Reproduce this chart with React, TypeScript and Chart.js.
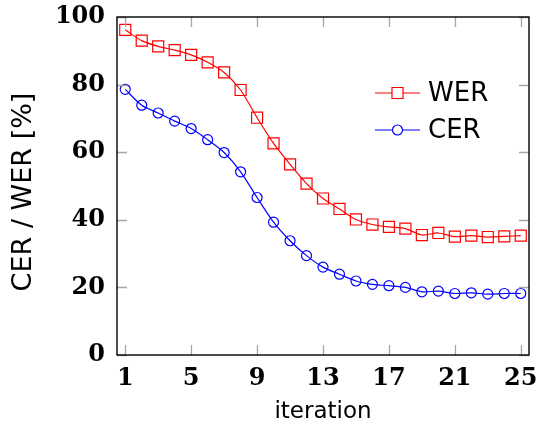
import { useEffect, useRef } from 'react';
import { Chart, registerables } from 'chart.js';

Chart.register(...registerables);

const iterations = [1, 2, 3, 4, 5, 6, 7, 8, 9, 10, 11, 12, 13, 14, 15, 16, 17, 18, 19, 20, 21, 22, 23, 24, 25];
const werValues = [96.2, 93.0, 91.3, 90.2, 88.8, 86.6, 83.6, 78.4, 70.2, 62.6, 56.4, 50.7, 46.3, 43.2, 40.1, 38.6, 37.9, 37.4, 35.5, 36.1, 35.0, 35.3, 34.9, 35.1, 35.3];
const cerValues = [78.6, 73.9, 71.6, 69.2, 67.0, 63.7, 59.9, 54.2, 46.6, 39.3, 33.8, 29.4, 26.0, 23.9, 21.9, 20.9, 20.5, 20.0, 18.7, 18.9, 18.2, 18.4, 18.0, 18.2, 18.2];
const xTickValues = [1, 5, 9, 13, 17, 21, 25];
const yTickValues = [0, 20, 40, 60, 80, 100];
const seriesLabels = ['WER', 'CER'];
const xTitle = 'iteration';
const yTitle = 'CER / WER [%]';

const SANS = '"DejaVu Sans", sans-serif';
const SERIF = '"DejaVu Serif", serif';

const zeroPadding = (scale: any) => {
  scale.paddingLeft = 0;
  scale.paddingRight = 0;
  scale.paddingTop = 0;
  scale.paddingBottom = 0;
};

const frameTicksPlugin = {
  id: 'frameTicks',
  afterDatasetsDraw(chart: any) {
    const { ctx, chartArea, scales } = chart;
    const { left, right, top, bottom } = chartArea;
    const len = 10;
    ctx.save();
    ctx.strokeStyle = '#a6a6a6';
    ctx.lineWidth = 1.3;
    ctx.beginPath();
    xTickValues.forEach((v) => {
      const px = Math.round(scales.x.getPixelForValue(v)) + 0.5;
      ctx.moveTo(px, bottom);
      ctx.lineTo(px, bottom - len);
      ctx.moveTo(px, top);
      ctx.lineTo(px, top + len);
    });
    yTickValues.forEach((v) => {
      const py = Math.round(scales.y.getPixelForValue(v)) + 0.5;
      ctx.moveTo(left, py);
      ctx.lineTo(left + len, py);
      ctx.moveTo(right, py);
      ctx.lineTo(right - len, py);
    });
    ctx.stroke();
    ctx.strokeStyle = '#000';
    ctx.lineWidth = 1.4;
    ctx.strokeRect(left, top, right - left, bottom - top);
    ctx.restore();
  },
};

const yTitlePlugin = {
  id: 'yTitle',
  afterDraw(chart: any) {
    const { ctx, chartArea } = chart;
    ctx.save();
    ctx.translate(24, (chartArea.top + chartArea.bottom) / 2 + 6);
    ctx.rotate(-Math.PI / 2);
    ctx.fillStyle = '#000';
    ctx.font = `27px ${SANS}`;
    ctx.textAlign = 'center';
    ctx.textBaseline = 'middle';
    ctx.fillText(yTitle, 0, 0);
    ctx.restore();
  },
};

const legendPlugin = {
  id: 'insideLegend',
  afterDraw(chart: any) {
    const { ctx, chartArea } = chart;
    const x0 = chartArea.right - 154;
    const x1 = chartArea.right - 109;
    const tx = chartArea.right - 101;
    chart.data.datasets.forEach((ds: any, i: number) => {
      const y = chartArea.top + 76 + i * 37;
      const mx = (x0 + x1) / 2;
      ctx.save();
      ctx.strokeStyle = ds.borderColor;
      ctx.lineWidth = ds.borderWidth;
      ctx.beginPath();
      ctx.moveTo(x0, y);
      ctx.lineTo(x1, y);
      ctx.stroke();
      ctx.lineWidth = ds.pointBorderWidth;
      ctx.beginPath();
      if (ds.pointStyle === 'rect') {
        const s = Math.SQRT1_2 * ds.pointRadius;
        ctx.rect(mx - s, y - s, 2 * s, 2 * s);
      } else {
        ctx.arc(mx, y, ds.pointRadius, 0, Math.PI * 2);
      }
      ctx.fillStyle = '#fff';
      ctx.fill();
      ctx.stroke();
      ctx.fillStyle = '#000';
      ctx.font = `26px ${SANS}`;
      ctx.textBaseline = 'middle';
      ctx.textAlign = 'left';
      ctx.fillText(ds.label, tx, y + 1);
      ctx.restore();
    });
  },
};

export default function App() {
  const ref = useRef<HTMLCanvasElement | null>(null);

  useEffect(() => {
    if (!ref.current) return;
    const chart = new Chart(ref.current, {
      type: 'line',
      data: {
        datasets: [
          {
            label: seriesLabels[0],
            data: iterations.map((x, i) => ({ x, y: werValues[i] })),
            borderColor: '#ff0000',
            borderWidth: 1.2,
            pointStyle: 'rect',
            pointRadius: 7.8,
            pointBorderWidth: 1.2,
            pointBorderColor: '#ff0000',
            pointBackgroundColor: 'rgba(0,0,0,0)',
            tension: 0.3,
            fill: false,
          },
          {
            label: seriesLabels[1],
            data: iterations.map((x, i) => ({ x, y: cerValues[i] })),
            borderColor: '#0000ff',
            borderWidth: 1.2,
            pointStyle: 'circle',
            pointRadius: 5,
            pointBorderWidth: 1.2,
            pointBorderColor: '#0000ff',
            pointBackgroundColor: 'rgba(0,0,0,0)',
            tension: 0.3,
            fill: false,
          },
        ],
      },
      options: {
        responsive: false,
        animation: false,
        layout: { padding: { left: 0, right: 10, top: 17, bottom: 0 } },
        plugins: { legend: { display: false }, tooltip: { enabled: false } },
        scales: {
          x: {
            type: 'linear',
            min: 0.5,
            max: 25.5,
            afterBuildTicks: (scale: any) => {
              scale.ticks = xTickValues.map((v) => ({ value: v }));
            },
            afterFit: (scale: any) => {
              scale.height = 73;
              zeroPadding(scale);
            },
            grid: { display: false, drawTicks: false },
            border: { display: false },
            ticks: {
              padding: 9,
              color: '#000',
              font: { family: SERIF, size: 24, weight: 'bold' },
              maxRotation: 0,
              autoSkip: false,
              callback: (v: any) => String(v),
            },
            title: {
              display: true,
              text: xTitle,
              color: '#000',
              font: { family: SANS, size: 23 },
              padding: { top: 0, bottom: 2 },
            },
          },
          y: {
            type: 'linear',
            min: 0,
            max: 100,
            afterBuildTicks: (scale: any) => {
              scale.ticks = yTickValues.map((v) => ({ value: v }));
            },
            afterFit: (scale: any) => {
              scale.width = 117;
              zeroPadding(scale);
            },
            grid: { display: false, drawTicks: false },
            border: { display: false },
            ticks: {
              padding: 12,
              color: '#000',
              font: { family: SERIF, size: 24, weight: 'bold' },
              autoSkip: false,
              callback: (v: any) => String(v),
            },
            title: { display: false },
          },
        },
      },
      plugins: [frameTicksPlugin, legendPlugin, yTitlePlugin],
    } as any);
    return () => chart.destroy();
  }, []);

  return (
    <div style={{ position: 'absolute', left: 0, top: 0, width: 539, height: 428 }}>
      <canvas ref={ref} width={539} height={428} style={{ width: 539, height: 428 }} />
    </div>
  );
}
